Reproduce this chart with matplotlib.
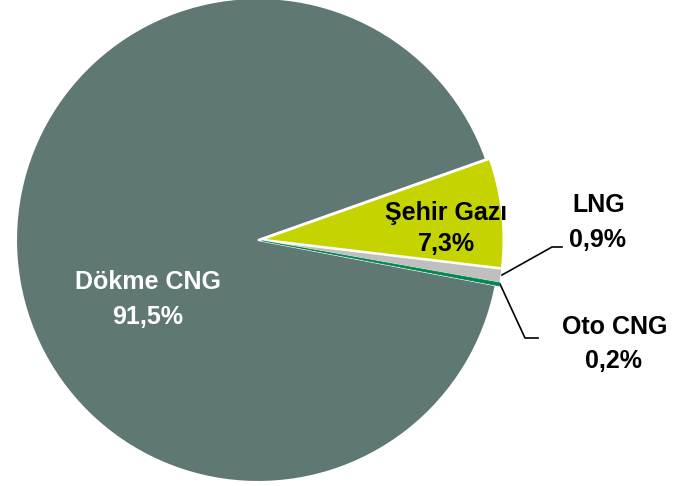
import matplotlib.pyplot as plt

# Data
labels = ["Şehir Gazı", "LNG", "Oto CNG", "Dökme CNG"]
values = [7.3, 0.9, 0.2, 91.5]
pct_text = ["7,3%", "0,9%", "0,2%", "91,5%"]
colors = ["#C5D400", "#BFBFBF", "#00864F", "#5F7873"]

plt.rcParams['font.family'] = ['Liberation Sans', 'DejaVu Sans']

fig = plt.figure(figsize=(6.9, 4.86), dpi=100)
ax = fig.add_axes([0, 0, 1, 1])

# pie at center (258, 240) px, radius 242 px
r = 242.0
wedges, _ = ax.pie(values, colors=colors, startangle=19.5, counterclock=False,
                   explode=[0.015, 0.015, 0.015, 0], radius=1,
                   wedgeprops=dict(edgecolor="white", linewidth=1.5))
# thin green slice: keep it visible
wedges[2].set_edgecolor(colors[2])
wedges[2].set_linewidth(0.6)
wedges[2].set_zorder(3)
wedges[1].set_linewidth(0.8)

ax.set_xlim(-258 / r, (690 - 258) / r)
ax.set_ylim(-(486 - 240) / r, 240 / r)
ax.set_aspect("equal")
ax.axis("off")


def px(x, y):
    return (x - 258) / r, (240 - y) / r


fs = 18
# Şehir Gazı
ax.text(*px(446, 213), labels[0], ha="center", va="center", fontsize=fs, fontweight="bold", color="black")
ax.text(*px(446, 244), pct_text[0], ha="center", va="center", fontsize=fs, fontweight="bold", color="black")
# Dökme CNG
ax.text(*px(148, 282), labels[3], ha="center", va="center", fontsize=fs, fontweight="bold", color="white")
ax.text(*px(148, 317), pct_text[3], ha="center", va="center", fontsize=fs, fontweight="bold", color="white")
# LNG
ax.text(*px(599, 205), labels[1], ha="center", va="center", fontsize=fs, fontweight="bold", color="black")
ax.text(*px(598, 240), pct_text[1], ha="center", va="center", fontsize=fs, fontweight="bold", color="black")
# Oto CNG
ax.text(*px(615, 327), labels[2], ha="center", va="center", fontsize=fs, fontweight="bold", color="black")
ax.text(*px(614, 361), pct_text[2], ha="center", va="center", fontsize=fs, fontweight="bold", color="black")

# leader lines
p = [px(502, 275), px(552, 247), px(562, 247)]
ax.plot([q[0] for q in p], [q[1] for q in p], color="black", linewidth=1.2)
p = [px(500, 284), px(525, 338), px(538, 338)]
ax.plot([q[0] for q in p], [q[1] for q in p], color="black", linewidth=1.2)

fig.savefig("out.png", dpi=100)
